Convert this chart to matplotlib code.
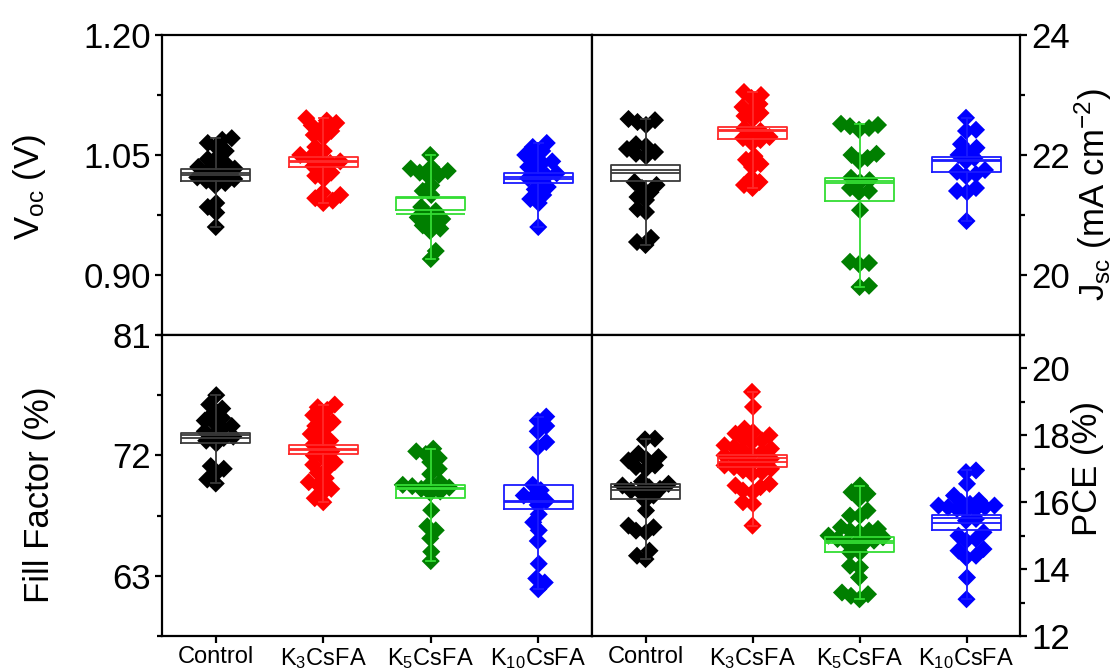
import matplotlib
matplotlib.use('Agg')
import matplotlib.pyplot as plt
import numpy as np

plt.rcParams['font.family'] = ['Liberation Sans', 'DejaVu Sans']
plt.rcParams['mathtext.fontset'] = 'custom'
plt.rcParams['mathtext.rm'] = 'Liberation Sans'
plt.rcParams['mathtext.it'] = 'Liberation Sans:italic'

groups = ['Control', r'K$_3$CsFA', r'K$_5$CsFA', r'K$_{10}$CsFA']
dot_colors = ['#000000', '#ff0000', '#007f00', '#0000ff']
box_colors = ['#3a3a3a', '#ff2a2a', '#33dd33', '#1a1aff']

# open-circuit voltage (V)
voc_control = [1.071, 1.069, 1.065, 1.060, 1.055, 1.048, 1.045, 1.040, 1.037, 1.035, 1.033, 1.030,
               1.028, 1.025, 1.022, 1.020, 1.018, 1.015, 1.012, 0.990, 0.985, 0.978, 0.960]
voc_k3 = [1.096, 1.093, 1.090, 1.087, 1.083, 1.080, 1.075, 1.072, 1.060, 1.055, 1.050, 1.047, 1.044,
          1.042, 1.040, 1.036, 1.033, 1.028, 1.024, 1.020, 1.003, 1.000, 0.996, 0.993, 0.990]
voc_k5 = [1.050, 1.035, 1.033, 1.030, 1.028, 1.025, 1.023, 1.012, 1.005, 1.000, 0.985, 0.980, 0.976,
          0.972, 0.970, 0.966, 0.962, 0.958, 0.955, 0.930, 0.920]
voc_k10 = [1.065, 1.060, 1.055, 1.050, 1.047, 1.042, 1.040, 1.035, 1.030, 1.027, 1.024, 1.021, 1.018,
           1.010, 1.007, 1.000, 0.995, 0.990, 0.960]
voc_box_lo = [1.017, 1.035, 0.981, 1.015]
voc_box_hi = [1.032, 1.048, 0.998, 1.028]
voc_median = [1.028, 1.041, 0.976, 1.022]
voc_mean = [1.025, 1.043, 0.996, 1.020]

# short-circuit current density (mA cm-2)
jsc_control = [22.60, 22.58, 22.55, 22.50, 22.18, 22.15, 22.10, 22.05, 22.02, 21.98, 21.55, 21.50,
               21.45, 21.38, 21.30, 21.25, 21.10, 21.05, 20.62, 20.55, 20.50]
jsc_k3 = [23.05, 23.00, 22.95, 22.85, 22.80, 22.75, 22.70, 22.65, 22.60, 22.45, 22.40, 22.35, 22.30,
          22.28, 22.25, 22.20, 21.98, 21.92, 21.85, 21.80, 21.62, 21.55, 21.50, 21.45]
jsc_k5 = [22.52, 22.50, 22.48, 22.45, 22.42, 22.02, 22.00, 21.95, 21.90, 21.62, 21.58, 21.55, 21.45,
          21.40, 21.38, 21.08, 20.22, 20.20, 20.18, 19.82, 19.80]
jsc_k10 = [22.62, 22.42, 22.40, 22.18, 22.12, 22.06, 22.00, 21.95, 21.90, 21.75, 21.72, 21.68, 21.65,
           21.45, 21.40, 21.38, 20.90]
jsc_box_lo = [21.56, 22.26, 21.23, 21.72]
jsc_box_hi = [21.83, 22.46, 21.61, 21.96]
jsc_median = [21.75, 22.42, 21.54, 21.92]
jsc_mean = [21.70, 22.40, 21.56, 21.90]

# fill factor (%)
ff_control = [76.5, 75.8, 75.5, 75.2, 74.8, 74.6, 74.4, 74.2, 74.0, 73.8, 73.6, 73.4, 73.3, 73.1,
              72.9, 71.2, 71.0, 70.6, 70.2, 69.9]
ff_k3 = [75.8, 75.6, 75.4, 75.0, 74.8, 74.5, 74.2, 74.0, 73.6, 73.4, 73.1, 72.8, 72.6, 72.3, 72.0,
         71.8, 71.5, 71.3, 71.0, 70.7, 70.3, 70.0, 69.8, 69.5, 69.2, 68.8, 68.5]
ff_k5 = [72.5, 72.3, 72.1, 71.8, 71.5, 71.0, 70.6, 70.0, 69.9, 69.8, 69.7, 69.6, 69.5, 69.3, 69.2,
         67.9, 66.7, 66.4, 65.8, 64.8, 64.1]
ff_k10 = [74.9, 74.6, 74.2, 73.8, 73.0, 72.6, 69.8, 69.4, 69.0, 68.9, 68.6, 68.3, 67.6, 67.0, 66.4,
          65.6, 63.9, 62.8, 62.5, 62.0]
ff_box_lo = [72.9, 72.1, 68.8, 68.0]
ff_box_hi = [73.7, 72.75, 69.8, 69.8]
ff_median = [73.5, 72.4, 69.6, 68.6]
ff_mean = [73.3, 72.5, 69.5, 68.5]

# power conversion efficiency (%)
pce_control = [17.90, 17.88, 17.45, 17.35, 17.30, 17.25, 17.10, 17.05, 17.00, 16.62, 16.55, 16.50,
               16.45, 16.40, 16.35, 16.30, 16.20, 16.05, 15.75, 15.30, 15.25, 15.15, 15.10, 14.55,
               14.40, 14.30]
pce_k3 = [19.30, 18.85, 18.20, 18.10, 18.05, 18.00, 17.90, 17.85, 17.80, 17.70, 17.65, 17.60, 17.55,
          17.50, 17.45, 17.40, 17.35, 17.30, 17.25, 17.20, 17.15, 17.10, 17.05, 17.00, 16.95, 16.90,
          16.85, 16.55, 16.50, 16.45, 16.35, 16.30, 16.00, 15.95, 15.30]
pce_k5 = [16.50, 16.30, 16.25, 16.10, 15.75, 15.60, 15.60, 15.25, 15.20, 15.15, 15.15, 15.10, 15.00,
          14.95, 14.90, 14.85, 14.80, 14.80, 14.75, 14.50, 14.50, 14.10, 14.05, 13.75, 13.30, 13.25,
          13.20, 13.10]
pce_k10 = [16.95, 16.90, 16.55, 16.20, 16.05, 16.00, 15.95, 15.90, 15.90, 15.85, 15.85, 15.80, 15.80,
           15.75, 15.50, 15.45, 15.10, 15.00, 14.90, 14.85, 14.60, 14.55, 14.40, 14.35, 13.75, 13.10]
pce_box_lo = [16.10, 17.06, 14.50, 15.17]
pce_box_hi = [16.54, 17.41, 14.95, 15.62]
pce_median = [16.38, 17.21, 14.77, 15.37]
pce_mean = [16.46, 17.31, 14.85, 15.52]

positions = np.arange(1, 5)


def swarm_x(ax, x0, vals, gap=9.0, maxw=34.0, step=1.5):
    # spread points sideways (in pixels); keep within +-maxw, overlap when crowded
    pts = ax.transData.transform(np.column_stack([np.full(len(vals), x0), vals]))
    ypx = pts[:, 1]
    placed = []
    offs = np.zeros(len(vals))
    cands = np.arange(-maxw, maxw + step / 2, step)
    cands = cands[np.argsort(np.abs(cands) + 0.01 * cands)]
    for n, i in enumerate(np.argsort(ypx)):
        c = cands if n % 2 else -cands
        if not placed:
            offs[i] = 0.0
            placed.append((0.0, ypx[i]))
            continue
        p = np.array(placed)
        d = np.sqrt((c[:, None] - p[None, :, 0]) ** 2 + (ypx[i] - p[None, :, 1]) ** 2).min(axis=1)
        ok = np.nonzero(d >= gap)[0]
        dx = c[ok[0]] if len(ok) else c[np.argmax(d)]
        offs[i] = dx
        placed.append((dx, ypx[i]))
    back = ax.transData.inverted().transform(np.column_stack([pts[:, 0] + offs, ypx]))
    return back[:, 0]


def draw_panel(ax, data, lo, hi, med, mean):
    for x0, vals, c in zip(positions, data, dot_colors):
        xs = swarm_x(ax, x0, vals)
        ax.scatter(xs, vals, marker='D', s=85, color=c, edgecolors='none', zorder=2)
    stats = []
    for vals, q1, q3, m, mu in zip(data, lo, hi, med, mean):
        stats.append(dict(q1=q1, q3=q3, med=m, mean=mu, whislo=min(vals), whishi=max(vals)))
    art = ax.bxp(stats, positions=positions, widths=0.64, showmeans=True, meanline=True,
                 showfliers=False, manage_ticks=False, capwidths=0.08,
                 meanprops=dict(linestyle='-', linewidth=1.3),
                 medianprops=dict(linewidth=1.3),
                 boxprops=dict(linewidth=1.3),
                 whiskerprops=dict(linewidth=1.3),
                 capprops=dict(linewidth=1.3))
    for i, c in enumerate(box_colors):
        for key in ('boxes', 'medians', 'means'):
            art[key][i].set_color(c)
            art[key][i].set_zorder(3)
        for key in ('whiskers', 'caps'):
            for line in art[key][2 * i:2 * i + 2]:
                line.set_color(c)
                line.set_zorder(3)


fig = plt.figure(figsize=(11.15, 6.7), dpi=100)
xl, xr = 162 / 1115, 592 / 1115
wl, wr = 430 / 1115, 428 / 1115
ax_voc = fig.add_axes([xl, 0.5, wl, 300 / 670])
ax_jsc = fig.add_axes([xr, 0.5, wr, 300 / 670])
ax_ff = fig.add_axes([xl, 34 / 670, wl, 301 / 670])
ax_pce = fig.add_axes([xr, 34 / 670, wr, 301 / 670])

limits = [(ax_voc, 0.825, 1.20, [0.90, 1.05, 1.20], [0.825, 0.975, 1.125], '{:.2f}'),
          (ax_jsc, 19, 24, [20, 22, 24], [19, 21, 23], '{:.0f}'),
          (ax_ff, 58.5, 81, [63, 72, 81], [58.5, 67.5, 76.5], '{:.0f}'),
          (ax_pce, 12, 21, [12, 14, 16, 18, 20], [13, 15, 17, 19, 21], '{:.0f}')]

for ax, y0, y1, major, minor, fmt in limits:
    ax.set_xlim(0.5, 4.5)
    ax.set_ylim(y0, y1)
    ax.set_yticks(major)
    ax.set_yticklabels([fmt.format(v) for v in major])
    ax.set_yticks(minor, minor=True)
    for sp in ax.spines.values():
        sp.set_linewidth(1.6)
    ax.tick_params(axis='y', which='major', direction='out', length=5, width=1.6, labelsize=25, pad=3)
    ax.tick_params(axis='y', which='minor', direction='out', length=3.5, width=1.6)

for ax in (ax_jsc, ax_pce):
    ax.yaxis.tick_right()

for ax in (ax_voc, ax_jsc):
    ax.set_xticks([])

for ax in (ax_ff, ax_pce):
    ax.set_xticks(positions)
    ax.set_xticklabels(groups)
    ax.tick_params(axis='x', direction='out', length=5, width=1.6, labelsize=17, pad=2)

draw_panel(ax_voc, [voc_control, voc_k3, voc_k5, voc_k10], voc_box_lo, voc_box_hi, voc_median, voc_mean)
draw_panel(ax_jsc, [jsc_control, jsc_k3, jsc_k5, jsc_k10], jsc_box_lo, jsc_box_hi, jsc_median, jsc_mean)
draw_panel(ax_ff, [ff_control, ff_k3, ff_k5, ff_k10], ff_box_lo, ff_box_hi, ff_median, ff_mean)
draw_panel(ax_pce, [pce_control, pce_k3, pce_k5, pce_k10], pce_box_lo, pce_box_hi, pce_median, pce_mean)

fig.text(30 / 1115, 1 - 187 / 670, r'V$_{\mathrm{oc}}$ (V)', rotation=90, fontsize=25,
         ha='center', va='center')
fig.text(40 / 1115, 1 - 495 / 670, 'Fill Factor (%)', rotation=90, fontsize=25,
         ha='center', va='center')
fig.text(1093 / 1115, 1 - 195 / 670, r'J$_{\mathrm{sc}}$ (mA cm$^{-2}$)', rotation=90, fontsize=25,
         ha='center', va='center')
fig.text(1088 / 1115, 1 - 468 / 670, 'PCE (%)', rotation=90, fontsize=25,
         ha='center', va='center')

fig.savefig('out.png', dpi=100)
